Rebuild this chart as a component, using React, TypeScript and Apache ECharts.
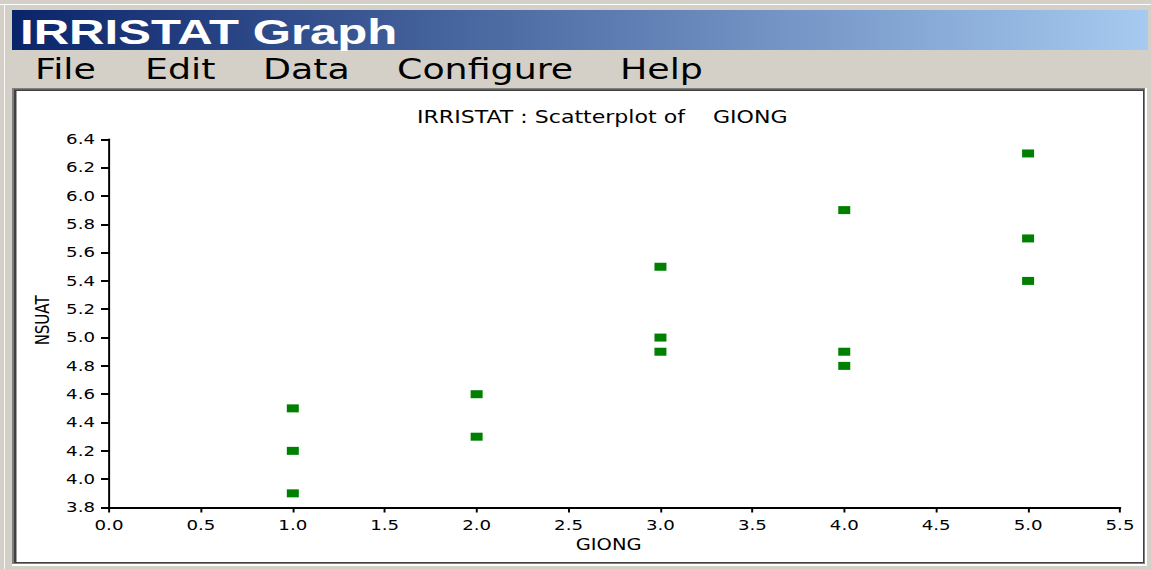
import React, { useEffect, useRef } from "react";
import * as echarts from "echarts";

// ---- data ----
const giong: number[] = [1, 1, 1, 2, 2, 3, 3, 3, 4, 4, 4, 5, 5, 5];
const nsuat: number[] = [3.9, 4.2, 4.5, 4.3, 4.6, 4.9, 5.0, 5.5, 4.8, 4.9, 5.9, 5.4, 5.7, 6.3];
const menuItems: string[] = ["File", "Edit", "Data", "Configure", "Help"];
const menuX: number[] = [35, 145, 263, 397, 620];
const chartTitle = "IRRISTAT : Scatterplot of    GIONG";
const windowTitle = "IRRISTAT Graph";
const xName = "GIONG";
const yName = "NSUAT";

// The reference is a horizontally stretched screenshot; draw at base width and stretch.
const FULL_W = 1151;
const H = 569;
const W = 886;
const S = FULL_W / W;
const X = (px: number) => px / S;

export default function App() {
  const ref = useRef<HTMLDivElement>(null);
  useEffect(() => {
    document.body.style.margin = "0";
    const chart = echarts.init(ref.current!, undefined, { renderer: "svg" });
    const points = giong.map((g, i) => [g, nsuat[i]]);
    const option: any = {
      animation: false,
      backgroundColor: "#d4d0c8",
      title: {
        text: chartTitle,
        left: X(417),
        top: 109,
        padding: 0,
        textStyle: {
          fontFamily: "DejaVu Sans",
          fontSize: 17,
          fontWeight: "normal",
          color: "#000",
        },
      },
      graphic: [
        { type: "line", shape: { x1: 0, y1: 4.5, x2: W, y2: 4.5 }, style: { stroke: "#ffffff", lineWidth: 1 }, z: 0 },
        { type: "line", shape: { x1: X(4.5), y1: 4, x2: X(4.5), y2: H }, style: { stroke: "#ffffff", lineWidth: 1 / S }, z: 0 },
        {
          type: "rect",
          shape: { x: X(12), y: 10, width: X(1136), height: 40 },
          style: {
            fill: new echarts.graphic.LinearGradient(0, 0, 1, 0, [
              { offset: 0, color: "#0a246a" },
              { offset: 1, color: "#a6caf0" },
            ]),
          },
          z: 0,
        },
        {
          type: "text",
          x: X(20),
          y: 31,
          scaleX: 1.05,
          style: {
            text: windowTitle,
            fill: "#ffffff",
            font: "bold 36px 'Liberation Sans', Arial, sans-serif",
            verticalAlign: "middle",
            align: "left",
          },
          z: 1,
        },
        ...menuItems.map((m, i) => ({
          type: "text",
          x: X(menuX[i]),
          y: 70,
          style: {
            text: m,
            fill: "#000000",
            font: "28px 'DejaVu Sans', sans-serif",
            verticalAlign: "middle",
            align: "left",
          },
          z: 1,
        })),
        { type: "rect", shape: { x: X(12), y: 88, width: X(1147) - X(12), height: 566 - 88 }, style: { fill: "#ffffff" }, z: 0 },
        { type: "rect", shape: { x: X(12), y: 88, width: X(1145) - X(12), height: 564 - 88 }, style: { fill: "#808080" }, z: 0 },
        { type: "rect", shape: { x: X(14), y: 89.5, width: X(1144) - X(14), height: 563 - 89.5 }, style: { fill: "#404040" }, z: 0 },
        { type: "rect", shape: { x: X(16.5), y: 91, width: X(1143) - X(16.5), height: 562 - 91 }, style: { fill: "#ffffff" }, z: 0 },
      ],
      grid: {
        left: X(109),
        right: W - X(1120),
        top: 139.3,
        bottom: H - 507.5,
        containLabel: false,
      },
      xAxis: {
        type: "value",
        min: 0,
        max: 5.5,
        interval: 0.5,
        name: xName,
        nameLocation: "middle",
        nameGap: 30,
        nameTextStyle: { fontFamily: "DejaVu Sans", fontSize: 15, color: "#000", padding: [0, 9, 0, 0] },
        axisLine: { show: true, onZero: false, lineStyle: { color: "#000", width: 2 } },
        axisTick: { show: true, inside: false, length: 5, lineStyle: { color: "#000", width: 1.5 } },
        axisLabel: {
          margin: 11,
          fontFamily: "DejaVu Sans",
          fontSize: 14,
          color: "#000",
          formatter: (v: number) => v.toFixed(1),
        },
        splitLine: { show: false },
      },
      yAxis: {
        type: "value",
        min: 3.8,
        max: 6.4,
        interval: 0.2,
        name: yName,
        nameLocation: "middle",
        nameGap: 32,
        nameTextStyle: { fontFamily: "DejaVu Sans", fontSize: 15, color: "#000", padding: [0, 0, 0, 6] },
        axisLine: { show: true, onZero: false, lineStyle: { color: "#000", width: 1.5 } },
        axisTick: { show: true, inside: false, length: X(8), lineStyle: { color: "#000", width: 2 } },
        axisLabel: {
          margin: X(14),
          fontFamily: "DejaVu Sans",
          fontSize: 14,
          color: "#000",
          formatter: (v: number) => v.toFixed(1),
        },
        splitLine: { show: false },
      },
      series: [
        {
          type: "scatter",
          data: points,
          symbol: "rect",
          symbolSize: [X(12), 8],
          itemStyle: { color: "#008000", opacity: 1 },
          z: 5,
        },
      ],
    };
    chart.setOption(option);
    return () => chart.dispose();
  }, []);
  return (
    <div
      ref={ref}
      style={{
        position: "absolute",
        left: 0,
        top: 0,
        width: W + "px",
        height: H + "px",
        transform: `scaleX(${S})`,
        transformOrigin: "0 0",
      }}
    />
  );
}
